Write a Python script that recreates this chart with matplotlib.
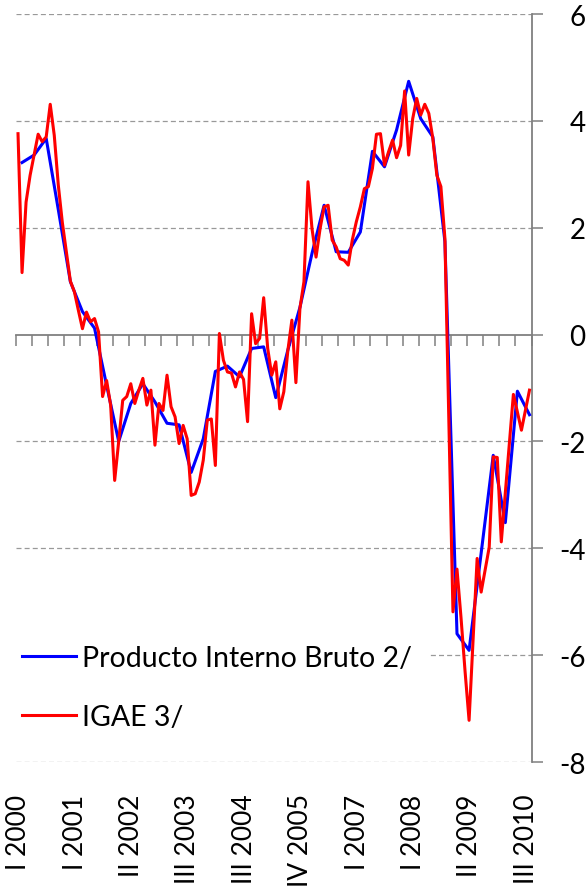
import numpy as np
import matplotlib.pyplot as plt
import matplotlib.transforms as mtransforms

plt.rcParams['font.family'] = ['Lato', 'DejaVu Sans']
plt.rcParams['axes.unicode_minus'] = False

# IGAE 3/ : variacion mensual, ene 2000 - ago 2010
igae = [3.76, 1.16, 2.48, 2.98, 3.36, 3.75, 3.61, 3.70, 4.31, 3.73,
        2.80, 2.10, 1.55, 1.00, 0.80, 0.45, 0.11, 0.42, 0.24, 0.30,
        0.05, -1.16, -0.86, -1.32, -2.73, -2.00, -1.23, -1.16, -0.92, -1.29,
        -1.04, -0.82, -1.32, -1.04, -2.07, -1.29, -1.42, -0.76, -1.35, -1.54,
        -2.04, -1.70, -1.95, -3.01, -2.98, -2.76, -2.35, -1.60, -1.58, -2.45,
        0.02, -0.48, -0.70, -0.72, -0.98, -0.70, -0.84, -1.63, 0.39, -0.17,
        -0.07, 0.69, -0.26, -0.76, -0.51, -1.39, -1.07, -0.30, 0.27, -0.90,
        0.49, 0.99, 2.86, 1.98, 1.45, 1.98, 2.39, 2.42, 1.77, 1.64,
        1.42, 1.39, 1.30, 1.77, 2.11, 2.39, 2.73, 2.77, 3.11, 3.75,
        3.76, 3.17, 3.42, 3.64, 3.31, 3.54, 4.56, 3.36, 4.04, 4.42,
        4.11, 4.31, 4.14, 3.67, 2.98, 2.77, 1.80, -1.70, -5.19, -4.39,
        -5.30, -6.30, -7.22, -5.70, -4.19, -4.82, -4.40, -3.98, -2.29, -2.30,
        -3.88, -2.96, -2.04, -1.12, -1.45, -1.79, -1.42, -1.04]

# Producto Interno Bruto 2/ : trimestral, I 2000 - III 2010
pib = [3.22, 3.36, 3.67, 2.34, 0.99, 0.43, 0.12, -0.95, -2.00, -1.29,
       -0.92, -1.26, -1.66, -1.69, -2.58, -1.95, -0.69, -0.59, -0.79, -0.26,
       -0.23, -1.18, -0.29, 0.51, 1.52, 2.42, 1.55, 1.54, 1.92, 3.43,
       3.14, 3.83, 4.74, 4.04, 3.70, 1.74, -5.60, -5.91, -4.09, -2.26,
       -3.52, -1.06, -1.50]

xlabels = ['I 2000', 'I 2001', 'II 2002', 'III 2003', 'III 2004',
           'IV 2005', 'I 2007', 'I 2008', 'II 2009', 'III 2010']
label_step = 14   # meses entre etiquetas
tick_step = 4
yticks = [-8, -6, -4, -2, 0, 2, 4, 6]

n = len(igae)
x_m = np.arange(n) + 0.5
x_q = np.arange(len(pib)) * 3 + 1.5   # mes central del trimestre

fig = plt.figure(figsize=(5.87, 8.87), dpi=100)
ax = fig.add_axes([16 / 587, 1 - 763 / 887, (531.5 - 16) / 587, 748 / 887])

for y in yticks:
    if y != 0:
        ax.axhline(y, color='#999999', lw=0.9, dashes=(4, 2.5), zorder=0)

ax.plot(x_q, pib, color='#0000FF', lw=2.2, label='Producto Interno Bruto 2/', zorder=3)
ax.plot(x_m, igae, color='#FF0000', lw=2.2, label='IGAE 3/', zorder=4)

ax.set_xlim(0, n)
ax.set_ylim(-8, 6)

gray = '#808080'
for s in ['left', 'top']:
    ax.spines[s].set_visible(False)
ax.spines['right'].set_color(gray)
ax.spines['right'].set_linewidth(1.3)
ax.spines['bottom'].set_position(('data', 0))
ax.spines['bottom'].set_color(gray)
ax.spines['bottom'].set_linewidth(1.3)

ax.set_xticks(np.arange(0, n + 1, tick_step))
ax.tick_params(axis='x', direction='out', length=8, width=1.1, color=gray,
               labelbottom=False)

ax.yaxis.tick_right()
ax.set_yticks(yticks)
ax.set_yticklabels([str(v) for v in yticks])
ax.tick_params(axis='y', direction='out', length=8, width=1.1, color=gray,
               labelsize=20, pad=31)
plt.setp(ax.get_yticklabels(), ha='right')

trans = mtransforms.blended_transform_factory(ax.transData, ax.transAxes)
for k, lab in enumerate(xlabels):
    ax.text(k * label_step + 0.7, -0.042, lab, transform=trans, rotation=90,
            ha='center', va='top', fontsize=19)

leg = ax.legend(loc='upper left', bbox_to_anchor=(5 / 587, 1 - 629 / 887),
                bbox_transform=fig.transFigure, fontsize=20.5, frameon=True,
                facecolor='white', edgecolor='none', framealpha=1,
                fancybox=False, borderpad=0.6, handlelength=1.9,
                handletextpad=0.2, labelspacing=1.15, borderaxespad=0)
leg.set_zorder(5)

fig.savefig('out.png', dpi=100)
